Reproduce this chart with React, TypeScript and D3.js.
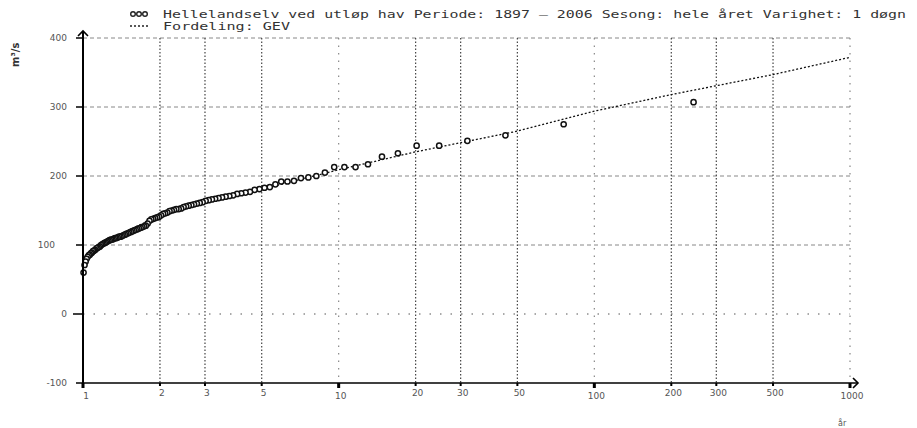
import React from "react";
import * as d3 from "d3";

// return periods (years) and annual max flood (m3/s), ranked from largest
const returnPeriods = [
  244.4, 75.86, 44.9, 31.88, 24.72, 20.18, 17.05, 14.77, 13.02, 11.64,
  10.53, 9.607, 8.835, 8.178, 7.612, 7.12, 6.687, 6.304, 5.962, 5.656,
  5.379, 5.128, 4.9, 4.691, 4.499, 4.322, 4.159, 4.007, 3.866, 3.735,
  3.612, 3.498, 3.39, 3.288, 3.193, 3.103, 3.018, 2.937, 2.861, 2.788,
  2.719, 2.654, 2.591, 2.532, 2.475, 2.42, 2.368, 2.318, 2.27, 2.224,
  2.18, 2.138, 2.097, 2.058, 2.02, 1.984, 1.949, 1.915, 1.882, 1.85,
  1.82, 1.79, 1.761, 1.734, 1.707, 1.681, 1.655, 1.631, 1.607, 1.584,
  1.561, 1.54, 1.518, 1.498, 1.477, 1.458, 1.439, 1.42, 1.402, 1.385,
  1.367, 1.351, 1.334, 1.318, 1.303, 1.287, 1.272, 1.258, 1.244, 1.23,
  1.216, 1.203, 1.19, 1.177, 1.165, 1.152, 1.14, 1.129, 1.117, 1.106,
  1.095, 1.084, 1.074, 1.063, 1.053, 1.043, 1.033, 1.024, 1.014, 1.005,
];
const discharges = [
  307, 275, 259, 251, 244, 244, 233, 228, 217, 213,
  213, 213, 205, 200, 198, 197, 193, 192, 192, 188,
  184, 183, 181, 180, 177, 176, 175, 174, 172, 171,
  170, 169, 168, 167, 166, 165, 164, 162, 161, 160,
  159, 158, 157, 156, 155, 153, 152, 152, 151, 150,
  149, 147, 146, 145, 143, 141, 140, 139, 138, 137,
  135, 131, 128, 127, 126, 125, 124, 123, 122, 121,
  120, 119, 118, 117, 116, 115, 114, 113, 112, 112,
  111, 110, 110, 109, 108, 108, 107, 106, 105, 104,
  103, 102, 101, 100, 98, 97, 96, 95, 93, 92,
  91, 89, 88, 86, 85, 83, 80, 76, 71, 60,
];

// fitted GEV curve
const gevT = [1.1, 1.2, 1.5, 2, 3, 5, 10, 20, 50, 100, 200, 500, 1000];
const gevQ = [93, 103, 121, 143, 164, 181, 209, 235, 265, 294, 318, 347, 372];

const xTicks = [1, 2, 3, 5, 10, 20, 30, 50, 100, 200, 300, 500, 1000];
const xMajor = [1, 10, 100, 1000];
const yTicks = [-100, 0, 100, 200, 300, 400];

const legendTitle =
  "Hellelandselv ved utløp hav Periode: 1897 – 2006 Sesong: hele året Varighet: 1 døgn";
const legendFit = "Fordeling: GEV";

const W = 917;
const H = 428;

export default function App() {
  const x = d3.scaleLog().domain([1, 1000]).range([83, 850]);
  const y = d3.scaleLinear().domain([-100, 400]).range([383, 38]);

  const gev = d3
    .line<number>()
    .x((d, i) => x(gevT[i]))
    .y((d) => y(d));

  const tickFont = "DejaVu Sans";
  const mono = "DejaVu Sans Mono";

  return (
    <svg
      width={W}
      height={H}
      style={{ position: "absolute", left: 0, top: 0, background: "#fff" }}
    >
      {/* legend */}
      <g fill="none" stroke="#222" strokeWidth={1.4}>
        {[133, 139, 145].map((cx) => (
          <circle key={cx} cx={cx} cy={14} r={2.3} />
        ))}
      </g>
      <line x1={130} x2={150} y1={26} y2={26} stroke="#222" strokeWidth={1.3} strokeDasharray="2,2" />
      <text x={163} y={18} fontFamily={mono} fontSize={11} fill="#333" textLength={743} lengthAdjust="spacingAndGlyphs">
        {legendTitle}
      </text>
      <text x={163} y={30} fontFamily={mono} fontSize={11} fill="#333" textLength={127} lengthAdjust="spacingAndGlyphs">
        {legendFit}
      </text>

      {/* horizontal grid */}
      {yTicks.filter((v) => v > -100).map((v) => (
        <line
          key={"hg" + v}
          x1={x(1)}
          x2={x(1000)}
          y1={y(v)}
          y2={y(v)}
          stroke={v === 0 ? "#555" : "#888"}
          strokeWidth={1}
          strokeDasharray={v === 0 ? "1.5,9" : "4,3"}
        />
      ))}

      {/* vertical grid */}
      {xTicks.filter((t) => t > 1).map((t) => {
        const major = xMajor.includes(t);
        return (
          <line
            key={"vg" + t}
            x1={x(t)}
            x2={x(t)}
            y1={y(400)}
            y2={y(-100)}
            stroke={major ? "#888" : "#444"}
            strokeWidth={1.2}
            strokeDasharray={major ? "1.5,6" : "1.5,2"}
          />
        );
      })}

      {/* GEV curve */}
      <path d={gev(gevQ) || ""} fill="none" stroke="#111" strokeWidth={1.3} strokeDasharray="2,2" />

      {/* observations */}
      <g fill="#fff" stroke="#111" strokeWidth={1.5}>
        {discharges.map((q, i) => (
          <circle key={i} cx={x(returnPeriods[i])} cy={y(q)} r={2.6} />
        ))}
      </g>

      {/* axes */}
      <line x1={83} x2={83} y1={y(-100) + 3} y2={31} stroke="#000" strokeWidth={2} />
      <polyline points="78,36 83,31 88,36" fill="none" stroke="#000" strokeWidth={1.6} />
      <line x1={83} x2={858} y1={y(-100)} y2={y(-100)} stroke="#000" strokeWidth={1.5} />
      <polyline points="853,378 858,383 853,388" fill="none" stroke="#000" strokeWidth={1.6} />

      {/* y ticks */}
      {yTicks.map((v) => (
        <g key={"yt" + v}>
          <line x1={v === 0 ? 73 : 76} x2={83} y1={y(v)} y2={y(v)} stroke="#000" strokeWidth={1.5} />
          <text
            x={v === 100 ? 55 : 67}
            y={y(v) + 3}
            textAnchor="end"
            fontFamily={tickFont}
            fontSize={9}
            fill="#555"
          >
            {v}
          </text>
        </g>
      ))}

      {/* x ticks */}
      {xTicks.map((t) => {
        const major = xMajor.includes(t);
        return (
          <g key={"xt" + t}>
            <rect
              x={x(t) - (major ? 1.5 : 1)}
              y={y(-100)}
              width={major ? 3 : 2}
              height={major ? 5 : 3}
              fill="#000"
            />
            <text
              x={x(t) + (t === 1 ? 3 : 2)}
              y={y(-100) + (major ? 16 : 13)}
              textAnchor="middle"
              fontFamily={tickFont}
              fontSize={9}
              fill="#555"
            >
              {t}
            </text>
          </g>
        );
      })}

      {/* axis titles */}
      <text
        transform="translate(19,67) rotate(-90)"
        fontFamily={tickFont}
        fontSize={10}
        fontWeight="bold"
        fill="#333"
      >
        m³/s
      </text>
      <text x={838} y={426} fontFamily={tickFont} fontSize={8} fill="#555">
        år
      </text>
    </svg>
  );
}
